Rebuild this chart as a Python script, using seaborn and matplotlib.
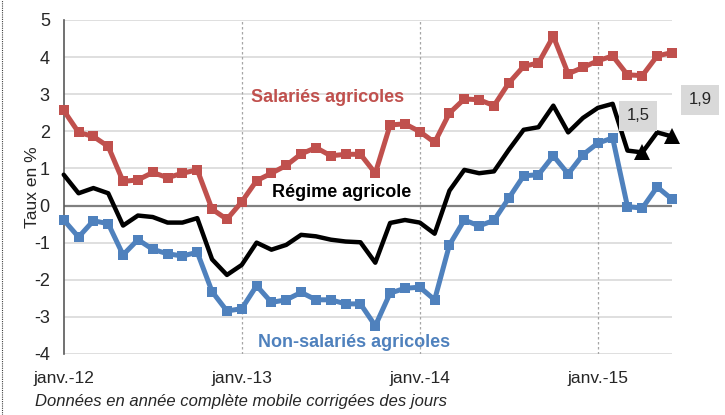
import matplotlib
matplotlib.use("Agg")
import matplotlib.pyplot as plt
import matplotlib.lines as mlines
import numpy as np
import pandas as pd
import seaborn as sns

# monthly series, janv. 2012 -> juin 2015
months = pd.date_range("2012-01-01", "2015-06-01", freq="MS")
salaries = [2.56, 1.97, 1.86, 1.59, 0.65, 0.69, 0.89, 0.75, 0.87, 0.96,
            -0.10, -0.37, 0.10, 0.67, 0.87, 1.08, 1.39, 1.56, 1.34, 1.38,
            1.38, 0.87, 2.17, 2.20, 1.99, 1.70, 2.49, 2.87, 2.85, 2.69,
            3.30, 3.75, 3.84, 4.56, 3.55, 3.72, 3.90, 4.03, 3.52, 3.50,
            4.03, 4.12]
regime = [0.83, 0.33, 0.47, 0.33, -0.54, -0.27, -0.31, -0.46, -0.46, -0.34,
          -1.45, -1.87, -1.60, -1.00, -1.19, -1.06, -0.79, -0.83, -0.92, -0.97,
          -0.99, -1.54, -0.47, -0.39, -0.46, -0.76, 0.40, 0.96, 0.87, 0.92,
          1.50, 2.04, 2.11, 2.69, 1.97, 2.36, 2.63, 2.74, 1.48, 1.43,
          1.97, 1.86]
non_salaries = [-0.39, -0.85, -0.41, -0.49, -1.33, -0.92, -1.18, -1.30, -1.36, -1.26,
                -2.32, -2.84, -2.78, -2.16, -2.61, -2.54, -2.34, -2.54, -2.54, -2.65,
                -2.65, -3.24, -2.36, -2.23, -2.20, -2.54, -1.06, -0.39, -0.55, -0.40,
                0.20, 0.80, 0.83, 1.34, 0.85, 1.37, 1.68, 1.82, -0.03, -0.07,
                0.50, 0.17]
year_ticks = ["janv.-12", "janv.-13", "janv.-14", "janv.-15"]
flagged = {"1,5": 39, "1,9": 41}

RED = "#C0504D"
BLUE = "#4F81BD"
GRID = "#D9D9D9"

sns.set_theme(style="white")
plt.rcParams["font.family"] = ["Liberation Sans", "DejaVu Sans"]

idx = np.arange(len(months))
fig = plt.figure(figsize=(7.25, 4.15), dpi=100)
ax = fig.add_axes([0.0879, 0.147, 0.839, 0.805])

for y in range(-4, 6):
    ax.axhline(y, color="#808080" if y == 0 else GRID, lw=1.6 if y == 0 else 1.2, zorder=0)
for x in (12, 24, 36):
    ax.axvline(x, color="#A6A6A6", lw=0.9, ls=(0, (2, 2)), zorder=0)

sns.lineplot(x=idx, y=salaries, ax=ax, color=RED, lw=3.6, marker="s", markersize=7.5,
             markeredgewidth=0, zorder=3, clip_on=False)
sns.lineplot(x=idx, y=non_salaries, ax=ax, color=BLUE, lw=3.6, marker="s", markersize=7.5,
             markeredgewidth=0, zorder=3, clip_on=False)
sns.lineplot(x=idx, y=regime, ax=ax, color="black", lw=3.2, marker="^", markersize=11,
             markeredgewidth=0, markevery=list(flagged.values()), zorder=4, clip_on=False)

ax.set_xlim(0, 41)
ax.set_ylim(-4, 5)
ax.set_yticks(range(-4, 6))
ax.set_yticklabels([str(v) for v in range(-4, 6)], fontsize=13)
ax.set_xticks([0, 12, 24, 36])
ax.set_xticklabels(year_ticks, fontsize=12.5)
ax.tick_params(axis="x", length=0, pad=12)
ax.tick_params(axis="y", length=0, pad=10)
for s in ("top", "right", "bottom"):
    ax.spines[s].set_visible(False)
ax.spines["left"].set_color("#595959")
ax.spines["left"].set_linewidth(1.2)
ax.set_xlabel("")
ax.set_ylabel("Taux en %", fontsize=12.5, labelpad=-4)

ax.text(17.8, 2.9, "Salariés agricoles", color=RED, fontsize=13, weight="bold",
        ha="center", va="center")
ax.text(18.7, 0.34, "Régime agricole", color="black", fontsize=13, weight="bold",
        ha="center", va="center")
ax.text(19.6, -3.7, "Non-salariés agricoles", color=BLUE, fontsize=13, weight="bold",
        ha="center", va="center")

box = dict(boxstyle="square,pad=0.45", fc=GRID, ec="none")
ax.text(38.7, 2.42, "1,5", fontsize=12, ha="center", va="center", bbox=box, zorder=5)
ax.text(42.9, 2.85, "1,9", fontsize=12, ha="center", va="center", bbox=box, zorder=5,
        clip_on=False)

fig.text(0.048, 0.022, "Données en année complète mobile corrigées des jours",
         fontsize=12, style="italic")
fig.add_artist(mlines.Line2D([0.003, 0.003], [0, 1], transform=fig.transFigure,
                             color="#404040", lw=0.8, ls=(0, (1, 1))))

fig.savefig("out.png", dpi=100, facecolor="white")
